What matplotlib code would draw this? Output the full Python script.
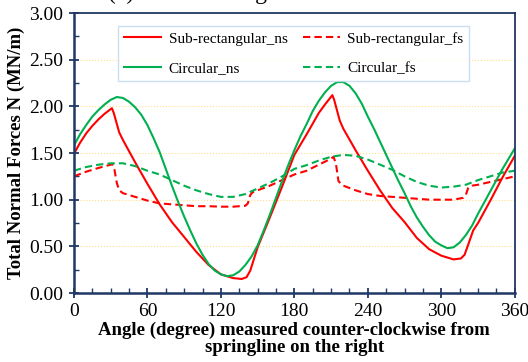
import matplotlib
matplotlib.use("Agg")
import matplotlib.pyplot as plt
from matplotlib.ticker import MultipleLocator, FormatStrFormatter

# Data (angle in degrees, N in MN/m)
ang_rect_ns = [0, 5, 10, 15, 20, 25, 31, 32.5, 37, 40, 50, 60, 70, 80, 90, 100, 110, 120, 130,
               137, 141, 144, 150, 160, 170, 180, 190, 200, 205, 211, 212.5, 217, 220, 230,
               240, 250, 260, 270, 280, 290, 300, 310, 316, 319, 322, 326, 330, 340, 350, 360]
rect_ns = [1.49, 1.61, 1.71, 1.79, 1.86, 1.92, 1.98, 1.93, 1.72, 1.64, 1.40, 1.17, 0.95, 0.76,
           0.60, 0.44, 0.30, 0.20, 0.16, 0.15, 0.17, 0.24, 0.49, 0.81, 1.14, 1.48, 1.70, 1.93,
           2.02, 2.12, 2.07, 1.85, 1.76, 1.53, 1.31, 1.10, 0.91, 0.76, 0.59, 0.47, 0.40, 0.36,
           0.37, 0.41, 0.52, 0.67, 0.75, 0.99, 1.24, 1.47]

ang_rect_fs = [0, 10, 20, 30, 31.5, 33, 35, 37, 40, 50, 60, 70, 80, 90, 100, 110, 120, 130,
               140, 142, 144, 146, 150, 160, 170, 180, 190, 200, 210, 212, 214, 216, 218, 220,
               230, 240, 250, 260, 270, 280, 290, 300, 310, 318, 320, 322, 325, 330, 340, 350,
               360]
rect_fs = [1.25, 1.30, 1.34, 1.375, 1.38, 1.33, 1.18, 1.10, 1.07, 1.03, 0.99, 0.96, 0.95, 0.94,
           0.93, 0.93, 0.925, 0.925, 0.935, 0.96, 1.05, 1.08, 1.10, 1.15, 1.21, 1.27, 1.31,
           1.375, 1.44, 1.46, 1.38, 1.20, 1.17, 1.15, 1.10, 1.06, 1.04, 1.03, 1.02, 1.01, 1.00,
           1.00, 1.00, 1.02, 1.05, 1.13, 1.15, 1.16, 1.19, 1.22, 1.25]

ang_circ_ns = list(range(0, 361, 5))
circ_ns = [1.58, 1.70, 1.80, 1.89, 1.96, 2.02, 2.07, 2.10, 2.09, 2.05, 1.99, 1.91, 1.80, 1.66,
           1.51, 1.33, 1.15, 0.98, 0.82, 0.67, 0.53, 0.41, 0.31, 0.24, 0.20, 0.18, 0.19, 0.23,
           0.30, 0.39, 0.51, 0.67, 0.84, 1.02, 1.20, 1.37, 1.53, 1.68, 1.81, 1.95, 2.06, 2.15,
           2.22, 2.26, 2.26, 2.22, 2.14, 2.03, 1.89, 1.76, 1.62, 1.48, 1.34, 1.20, 1.07, 0.93,
           0.81, 0.71, 0.62, 0.55, 0.51, 0.48, 0.49, 0.54, 0.62, 0.72, 0.85, 0.97, 1.09, 1.21,
           1.33, 1.44, 1.55]

ang_circ_fs = [0, 10, 20, 30, 35, 40, 50, 60, 70, 80, 90, 100, 110, 120, 130, 140, 150, 160,
               170, 180, 190, 200, 210, 220, 230, 240, 250, 260, 270, 280, 290, 300, 310, 320,
               330, 340, 350, 360]
circ_fs = [1.31, 1.35, 1.375, 1.39, 1.39, 1.39, 1.36, 1.31, 1.27, 1.21, 1.15, 1.10, 1.06, 1.03,
           1.03, 1.06, 1.12, 1.18, 1.25, 1.33, 1.37, 1.42, 1.46, 1.48, 1.47, 1.43, 1.375, 1.32,
           1.25, 1.19, 1.15, 1.13, 1.14, 1.16, 1.21, 1.25, 1.29, 1.31]

navy = "#203864"
red = "#FF0000"
green = "#00B050"

plt.rcParams["font.family"] = ["Liberation Serif", "DejaVu Serif"]

fig = plt.figure(figsize=(5.28, 3.62), dpi=100)
ax = fig.add_axes([0.140, 0.1906, 0.835, 0.7734])

l1, = ax.plot(ang_rect_ns, rect_ns, color=red, lw=1.5, label="Sub-rectangular_ns")
l2, = ax.plot(ang_rect_fs, rect_fs, color=red, lw=1.5, dashes=(3.5, 2), label="Sub-rectangular_fs")
l3, = ax.plot(ang_circ_ns, circ_ns, color=green, lw=1.5, label="Circular_ns")
l4, = ax.plot(ang_circ_fs, circ_fs, color=green, lw=1.5, dashes=(3.5, 2), label="Circular_fs")

ax.set_xlim(0, 360)
ax.set_ylim(0, 3)
ax.xaxis.set_major_locator(MultipleLocator(60))
ax.xaxis.set_minor_locator(MultipleLocator(15))
ax.yaxis.set_major_locator(MultipleLocator(0.5))
ax.yaxis.set_minor_locator(MultipleLocator(0.25))
ax.yaxis.set_major_formatter(FormatStrFormatter("%.2f"))

ax.grid(True, which="major", axis="y", color="#FFE08A", linestyle=":", linewidth=0.8)
ax.set_axisbelow(True)

for s in ax.spines.values():
    s.set_color(navy)
    s.set_linewidth(1.3)
ax.spines["left"].set_linewidth(1.8)
ax.spines["bottom"].set_linewidth(1.8)

ax.tick_params(which="major", direction="inout", length=7, width=1.3, color=navy,
               labelsize=14, pad=4)
ax.tick_params(which="minor", direction="in", length=3.5, width=1.0, color=navy)
ax.tick_params(axis="x", which="both", top=False)
ax.tick_params(axis="y", which="both", right=False)

ax.set_xlabel("Angle (degree) measured counter-clockwise from\nspringline on the right",
              fontsize=13.5, fontweight="bold", labelpad=1, linespacing=1.0)
ax.set_ylabel("Total Normal Forces N (MN/m)", fontsize=13.5, fontweight="bold", labelpad=3)

leg = ax.legend(handles=[l1, l3, l2, l4], ncol=2, loc="upper center",
                bbox_to_anchor=(0.499, 0.982), fontsize=11, frameon=True, fancybox=False,
                handlelength=2.4, labelspacing=1.05, columnspacing=1.0, borderpad=0.4,
                handletextpad=0.5)
leg.get_frame().set_edgecolor("#BDD7EE")
leg.get_frame().set_linewidth(1.0)

# title of the panel, mostly cut off at the top edge in the original
fig.text(0.205, 1.0 + 1.5 / 362, "(a) Tunnel lining", fontsize=17, va="baseline", ha="left")

fig.savefig("out.png", dpi=100)
